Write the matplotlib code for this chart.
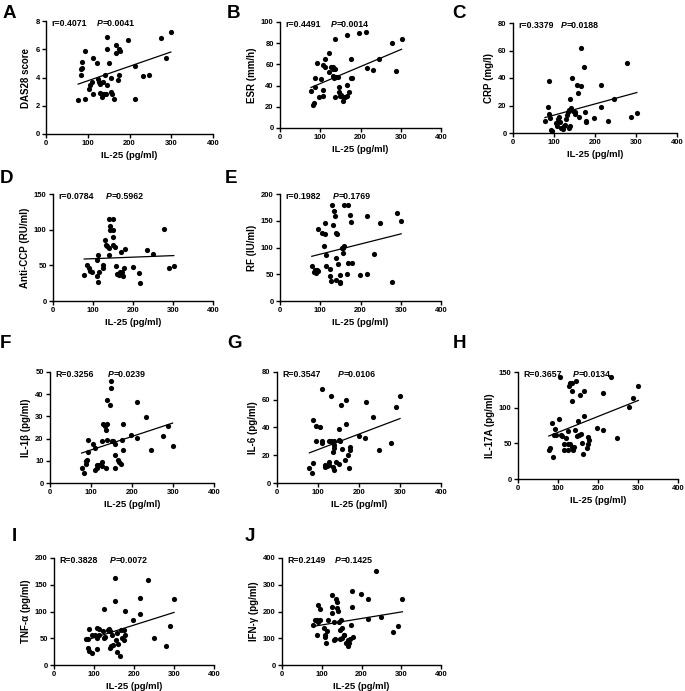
import matplotlib
matplotlib.use('Agg')
import matplotlib.pyplot as plt
import numpy as np

plt.rcParams['font.family'] = ['Liberation Sans', 'DejaVu Sans']
plt.rcParams['font.weight'] = 'bold'
plt.rcParams['axes.labelweight'] = 'bold'

FIG_W, FIG_H = 685, 691

# A: DAS28
das28_x = [77, 85, 83, 87, 87, 93, 93, 113, 113, 103, 106, 109, 122, 125, 127, 129, 137, 141, 145,
           130, 135, 138, 143, 133, 147, 147, 151, 155, 156, 159, 164, 167, 167, 175, 178, 175, 172,
           196, 212, 214, 232, 246, 275, 287, 299]
das28_y = [2.4, 4.2, 4.6, 4.7, 5.1, 5.9, 2.5, 5.4, 2.8, 3.2, 3.5, 3.7, 5.0, 3.9, 3.7, 3.55, 3.7, 4.2, 3.5,
           2.9, 2.65, 2.8, 2.8, 2.8, 6.9, 6.0, 5.0, 4.0, 3.0, 2.85, 2.5, 6.3, 5.7, 6.0, 5.85, 4.2, 3.8,
           6.65, 4.8, 2.5, 4.1, 4.2, 6.8, 5.4, 7.25]

# B: ESR
esr_x = [77, 82, 85, 87, 88, 93, 96, 103, 107, 112, 107, 107, 112, 122, 122, 127, 131, 132, 135, 132,
         137, 139, 143, 137, 137, 147, 147, 152, 149, 156, 157, 162, 167, 167, 166, 172, 177, 177, 179,
         197, 214, 216, 232, 247, 279, 289, 302]
esr_y = [35, 22, 23.4, 39, 47.5, 61, 29, 46, 59, 58, 36, 30, 65, 71, 52.5, 58, 58, 56, 47, 49,
         56, 48.4, 48.4, 84, 29, 39, 34, 31, 30, 29, 25.6, 29, 30, 88, 41, 34, 65, 47.5, 47.5,
         90, 91, 57, 55, 65, 80, 54, 84]

# C: CRP
crp_x = [78, 86, 88, 90, 89, 93, 95, 105, 108, 110, 112, 115, 118, 122, 125, 128, 130, 132, 134, 136,
         138, 140, 137, 142, 145, 147, 150, 152, 155, 158, 160, 165, 167, 172, 175, 177, 178, 197,
         214, 215, 232, 247, 278, 289, 302]
crp_y = [9, 19, 14, 11, 38, 2, 1.5, 7, 5, 10, 12, 8, 4, 3, 5, 6, 10, 13, 15, 17,
         25, 5, 4, 18, 40, 16, 15, 14, 35, 29, 12, 62, 34, 48, 15, 9, 8, 11,
         35, 19, 9, 24.5, 51, 12, 14.5]

# D: Anti-CCP
ccp_x = [78, 86, 89, 93, 97, 111, 112, 112, 111, 116, 126, 126, 130, 133, 136, 139, 139, 139, 149,
         143, 142, 149, 151, 149, 155, 158, 159, 163, 166, 168, 169, 180, 172, 176, 178, 199, 216,
         217, 236, 249, 277, 290, 302]
ccp_y = [36, 50, 46, 42, 40, 35, 27, 65, 57, 41, 50, 46, 86, 78, 77, 74, 65, 115, 115,
         105, 100, 100, 90, 78, 76, 49, 38, 38, 36, 41, 69, 73, 41, 35, 46, 47, 39,
         25, 71, 66, 101, 46, 49]

# E: RF
rf_x = [79, 87, 89, 91, 95, 85, 95, 105, 112, 112, 110, 114, 114, 124, 124, 127, 128, 132, 134, 137,
        138, 141, 139, 143, 139, 149, 149, 149, 153, 157, 160, 157, 160, 168, 166, 168, 178, 174,
        176, 199, 215, 215, 234, 248, 279, 290, 301]
rf_y = [66, 58, 52, 58, 56, 55, 135, 127, 126, 146, 102, 86, 66, 59, 47, 38, 179, 142, 169, 159,
        128, 125, 80, 70, 39, 36, 33, 49, 100, 100, 102, 89, 179, 179, 50, 71, 71, 160,
        148, 49, 158, 50, 88, 146, 35, 164, 150]

# F: IL-1beta
il1b_x = [77, 84, 88, 89, 91, 93, 93, 104, 110, 110, 114, 115, 120, 126, 126, 126, 130, 134, 136,
          136, 138, 140, 140, 146, 148, 148, 150, 154, 158, 158, 158, 166, 169, 172, 175, 177, 177,
          197, 213, 213, 233, 247, 276, 288, 299]
il1b_y = [6.8, 4.5, 9.8, 8.7, 10.2, 19.2, 14.0, 17.6, 15.8, 6.0, 6.8, 8.3, 8.3, 9.3, 7.8, 18.8, 26.6, 25.5, 24,
          6.8, 37.2, 19.5, 26.6, 35.3, 42.8, 45.8, 18.8, 18.8, 17.7, 12.8, 6.8, 10.2, 9.3, 8.7, 19.5, 26.6, 14.7,
          21.5, 36.3, 20.3, 29.7, 15, 21, 25.5, 16.8]

# G: IL-6
il6_x = [79, 85, 89, 89, 95, 95, 105, 110, 110, 110, 116, 116, 122, 126, 127, 127, 132, 132, 136,
         138, 138, 136, 138, 140, 144, 150, 150, 154, 152, 157, 158, 166, 168, 168, 173, 177, 178,
         176, 199, 215, 217, 233, 249, 277, 290, 300]
il6_y = [10.8, 7.2, 14.4, 45.6, 30, 40.8, 40.1, 67.7, 30, 28.8, 13.2, 11.5, 12, 14.9, 13.2, 30, 30, 62.5, 22,
         30, 27.6, 11.5, 9.6, 25.2, 14.9, 13.9, 31.2, 30.5, 38.9, 56.5, 24.5, 16.8, 42.5, 59.6, 20.4, 23.5, 26,
         10.8, 34.1, 32.4, 58.1, 47.6, 24, 28.8, 54.5, 62.9]

# H: IL-17A
il17a_x = [77, 81, 86, 88, 92, 90, 95, 103, 107, 109, 106, 115, 115, 121, 126, 126, 126, 128, 131,
           134, 134, 136, 131, 136, 140, 138, 142, 146, 148, 153, 151, 156, 157, 159, 165, 166, 163,
           172, 174, 177, 176, 197, 213, 213, 233, 247, 278, 287, 301]
il17a_y = [40.8, 43, 79, 30.5, 70, 62, 62, 84, 62, 60, 143, 49, 40, 57, 49, 40, 67, 131, 134,
           135, 124, 109, 49, 45, 45, 40, 68, 137, 60, 62, 81, 118, 63, 50, 124, 89, 35,
           43, 59, 55, 49, 71, 121, 68, 143, 57, 101, 113, 131]

# I: TNF-alpha
tnfa_x = [79, 84, 86, 88, 94, 88, 94, 102, 108, 108, 113, 108, 113, 123, 125, 127, 125, 136, 138,
          141, 144, 141, 142, 148, 152, 152, 156, 158, 158, 160, 165, 167, 171, 175, 175, 177, 177,
          198, 215, 215, 234, 250, 279, 290, 300]
tnfa_y = [48, 48, 31, 26, 22, 68, 57, 57, 30, 70, 67, 50, 56, 63, 50, 53, 104, 65, 68,
          63, 56, 31, 36, 37, 119, 163, 47, 59, 25, 40, 16, 65, 50, 47, 65, 101, 57,
          85, 95, 125, 158, 51, 36, 73, 124]

# J: IFN-gamma
ifng_x = [77, 84, 88, 90, 88, 90, 96, 95, 105, 107, 107, 110, 113, 115, 126, 127, 127, 130, 130,
          134, 136, 138, 138, 140, 144, 149, 146, 151, 146, 152, 155, 157, 161, 166, 169, 166, 172,
          174, 176, 177, 178, 199, 216, 216, 236, 249, 279, 291, 303]
ifng_y = [149, 168, 168, 159, 112, 224, 209, 168, 139, 112, 106, 81, 127, 168, 193, 217, 263, 159, 93,
          99, 248, 236, 214, 201, 159, 168, 130, 137, 99, 102, 112, 114, 83, 72, 83, 93, 99,
          149, 276, 217, 106, 267, 246, 171, 350, 180, 124, 147, 248]

# letter, x, y, ylabel, ytop, ystep, coefficient text, P value, axes box (px: left, right, top, bottom),
# letter position (px), P text position (axes fraction)
panels = [
    ('A', das28_x, das28_y, 'DAS28 score', 8, 2, 'r=0.4071', '0.0041', (46, 213, 21, 134), (3, 5), 0.305),
    ('B', esr_x, esr_y, 'ESR (mm/h)', 100, 20, 'r=0.4491', '0.0014', (280, 441, 22, 128), (227, 5), 0.317),
    ('C', crp_x, crp_y, 'CRP (mg/l)', 80, 20, 'r=0.3379', '0.0188', (513, 677, 23, 133), (452, 5), 0.29),
    ('D', ccp_x, ccp_y, 'Anti-CCP (RU/ml)', 150, 50, 'r=0.0784', '0.5962', (53, 213, 194, 301), (0, 170), 0.33),
    ('E', rf_x, rf_y, 'RF (IU/ml)', 200, 50, 'r=0.1982', '0.1769', (280, 441, 194, 301), (225, 170), 0.33),
    ('F', il1b_x, il1b_y, 'IL-1\u03b2 (pg/ml)', 50, 10, 'R=0.3256', '0.0239', (50, 214, 372, 483), (0, 335), 0.35),
    ('G', il6_x, il6_y, 'IL-6 (pg/ml)', 80, 20, 'R=0.3547', '0.0106', (277, 441, 372, 483), (227, 335), 0.37),
    ('H', il17a_x, il17a_y, 'IL-17A (pg/ml)', 150, 50, 'R=0.3657', '0.0134', (518, 678, 372, 479), (453, 335), 0.34),
    ('I', tnfa_x, tnfa_y, 'TNF-\u03b1 (pg/ml)', 200, 50, 'R=0.3828', '0.0072', (54, 214, 558, 665), (12, 528), 0.35),
    ('J', ifng_x, ifng_y, 'IFN-\u03b3 (pg/ml)', 400, 100, 'R=0.2149', '0.1425', (282, 441, 558, 665), (245, 528), 0.33),
]

fig = plt.figure(figsize=(FIG_W / 100, FIG_H / 100), dpi=100)

for letter, xs, ys, ylabel, ytop, ystep, rtext, ptext, box, lpos, pfrac in panels:
    left, right, top, bottom = box
    ax = fig.add_axes([left / FIG_W, 1 - bottom / FIG_H, (right - left) / FIG_W, (bottom - top) / FIG_H])
    xs = np.array(xs, dtype=float)
    ys = np.array(ys, dtype=float)
    ax.scatter(xs, ys, s=14, color='black', linewidths=0, zorder=3, clip_on=False)

    # linear regression line over the data range
    slope, intercept = np.polyfit(xs, ys, 1)
    xfit = np.array([xs.min(), xs.max()])
    ax.plot(xfit, slope * xfit + intercept, color='black', lw=0.9)

    ax.set_xlim(0, 400)
    ax.set_ylim(0, ytop)
    ax.set_xticks([0, 100, 200, 300, 400])
    ax.set_yticks(np.arange(0, ytop + ystep / 2, ystep))
    for side in ['top', 'right']:
        ax.spines[side].set_visible(False)
    for side in ['left', 'bottom']:
        ax.spines[side].set_linewidth(1.0)
    ax.tick_params(direction='out', length=3, width=1.0, labelsize=5.5, pad=1.5)
    for lab in ax.get_xticklabels() + ax.get_yticklabels():
        lab.set_fontweight('bold')
    ax.set_xlabel('IL-25 (pg/ml)', fontsize=6.8, labelpad=3)
    ax.set_ylabel(ylabel, fontsize=7, labelpad=3)

    ax.text(0.035, 0.975, rtext, transform=ax.transAxes, fontsize=6.3, va='center', ha='left')
    pt = ax.text(pfrac, 0.975, 'P', transform=ax.transAxes, fontsize=6.3, va='center', ha='left',
                 style='italic')
    ax.annotate('=' + ptext, xy=(1, 0.5), xycoords=pt, fontsize=6.3, va='center', ha='left')

    fig.text(lpos[0] / FIG_W, 1 - lpos[1] / FIG_H, letter, fontsize=13.5, fontweight='bold',
             va='top', ha='left')

fig.savefig('out.png', dpi=100)
